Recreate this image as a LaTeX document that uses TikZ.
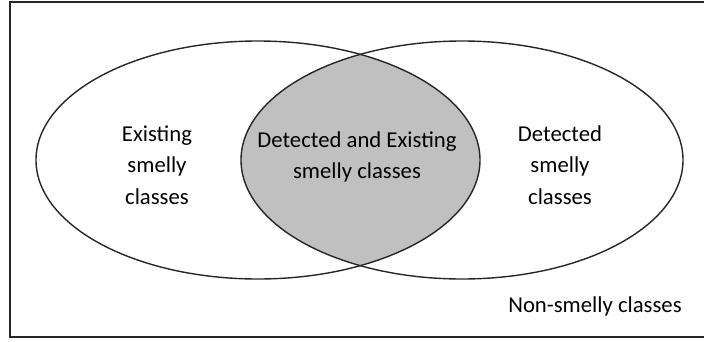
\documentclass[tikz,border=0pt]{standalone}
\usepackage{fontspec}
\setmainfont{Carlito}
\usetikzlibrary{calc}
\tikzstyle{lbl}=[align=center, inner sep=0, font=\fontsize{22.8}{31.5}\selectfont]
\tikzstyle{rim}=[line width=1.4bp, black!85]
\definecolor{both}{RGB}{192,192,192}

\begin{document}
\begin{tikzpicture}[x=1bp, y=-1bp]
\useasboundingbox (0,0) rectangle (704,341);
\draw[line width=2bp, black!85] (710,2)--(10,2)--(10,337)--(710,337);
\begin{scope}
\clip (258,160) ellipse [x radius=222, y radius=119];
\fill[both] (462,160) ellipse [x radius=221, y radius=119];
\end{scope}
\draw[rim] (258,160) ellipse [x radius=222, y radius=119];
\draw[rim] (462,160) ellipse [x radius=221, y radius=119];
\node at (157,165)[lbl](existing){Existing\\smelly\\classes};
\node at (357,157)[lbl](common){Detected and Existing\\smelly classes};
\node at (560,165)[lbl](detected){Detected\\smelly\\classes};
\node at (595,306)[lbl](others){Non-smelly classes};
\end{tikzpicture}
\end{document}
